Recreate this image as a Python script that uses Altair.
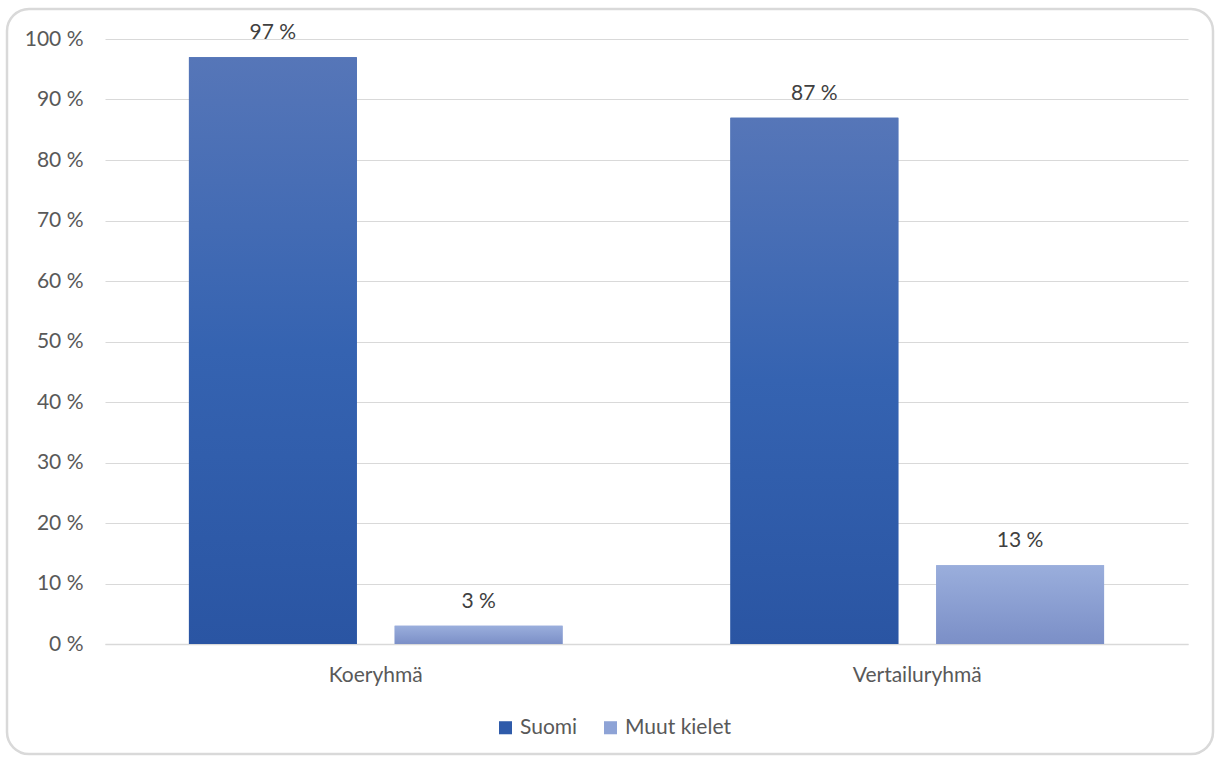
import altair as alt
import pandas as pd

groups = ["Koeryhmä", "Vertailuryhmä"]
series = ["Suomi", "Muut kielet"]
suomi = [97, 87]
muut = [3, 13]
y_ticks = [0, 10, 20, 30, 40, 50, 60, 70, 80, 90, 100]

rows = []
for g, s_val, m_val in zip(groups, suomi, muut):
    rows.append({"group": g, "series": "Suomi", "value": s_val})
    rows.append({"group": g, "series": "Muut kielet", "value": m_val})
df = pd.DataFrame(rows)

FONT = "Lato"
FS = 21

x_enc = alt.X("group:N", sort=groups, title=None,
              scale=alt.Scale(paddingInner=0.31, paddingOuter=0.155),
              axis=alt.Axis(labelAngle=0, labelPadding=20, ticks=False,
                            domain=True, domainColor="#d9d9d9", domainWidth=1.5,
                            labelColor="#595959", labelFont=FONT, labelFontSize=FS,
                            grid=False))
xo_enc = alt.XOffset("series:N", sort=series,
                     scale=alt.Scale(domain=series, paddingInner=0.184, paddingOuter=0))
y_enc = alt.Y("value:Q", title=None,
              scale=alt.Scale(domain=[0, 100], nice=False),
              axis=alt.Axis(values=y_ticks, labelExpr="datum.value + ' %'",
                            ticks=False, domain=False, grid=True,
                            gridColor="#d9d9d9", gridWidth=1.2,
                            labelPadding=22, labelColor="#595959",
                            labelFont=FONT, labelFontSize=FS))

base = alt.Chart(df)

legend_bars = base.mark_bar().encode(
    x=x_enc, xOffset=xo_enc, y=y_enc,
    color=alt.Color("series:N", sort=series,
                    scale=alt.Scale(domain=series, range=["#2F5BAA", "#8EA3D6"]),
                    legend=alt.Legend(title=None, orient="none", direction="horizontal",
                                      legendX=390, legendY=678,
                                      symbolType="square", symbolSize=170,
                                      symbolStrokeWidth=0,
                                      labelFont=FONT, labelFontSize=FS,
                                      labelColor="#595959", labelOffset=4,
                                      columnPadding=22)),
)

grad_suomi = alt.Gradient(
    gradient="linear", x1=0, x2=0, y1=0, y2=1,
    stops=[alt.GradientStop(color="#5676B8", offset=0),
           alt.GradientStop(color="#3563B1", offset=0.5),
           alt.GradientStop(color="#2A55A3", offset=1)])
grad_muut = alt.Gradient(
    gradient="linear", x1=0, x2=0, y1=0, y2=1,
    stops=[alt.GradientStop(color="#9AAEDC", offset=0),
           alt.GradientStop(color="#7B8FC7", offset=1)])

bars_suomi = base.transform_filter(alt.datum.series == "Suomi").mark_bar(
    color=grad_suomi).encode(x=x_enc, xOffset=xo_enc, y=y_enc)
bars_muut = base.transform_filter(alt.datum.series == "Muut kielet").mark_bar(
    color=grad_muut).encode(x=x_enc, xOffset=xo_enc, y=y_enc)

labels = base.transform_calculate(lbl="datum.value + ' %'").mark_text(
    font=FONT, fontSize=FS, color="#404040", baseline="alphabetic", dy=-18
).encode(x=x_enc, xOffset=xo_enc, y=y_enc, text="lbl:N")

border = alt.Chart(pd.DataFrame({"a": [0]})).mark_rect(
    fill="white", fillOpacity=0, stroke="#d9d9d9", strokeWidth=2.5,
    cornerRadius=22, clip=False
).encode(x=alt.value(-98), x2=alt.value(1108), y=alt.value(-30), y2=alt.value(715))

chart = alt.layer(border, legend_bars, bars_suomi, bars_muut, labels).properties(
    width=1083, height=605,
    background="white",
    autosize=alt.AutoSizeParams(type="none"),
    padding={"left": 105, "top": 39, "right": 27, "bottom": 114},
).configure_view(strokeWidth=0, stroke="transparent")

chart.save("out.html", embed_options={"renderer": "svg", "actions": False})
